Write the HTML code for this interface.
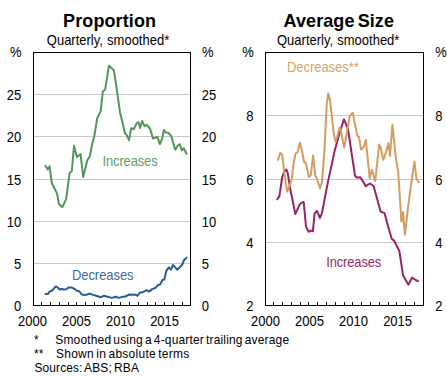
<!DOCTYPE html>
<html><head><meta charset="utf-8"><style>
html,body{margin:0;padding:0;background:#fff;width:447px;height:377px;overflow:hidden}
svg{display:block}
text{font-family:"Liberation Sans",sans-serif}
</style></head><body>
<svg width="447" height="377" viewBox="0 0 447 377">
<rect width="447" height="377" fill="#fff"/>
<rect x="34" y="263" width="156" height="1" fill="#c8c8c8"/>
<rect x="34" y="221" width="156" height="1" fill="#c8c8c8"/>
<rect x="34" y="179" width="156" height="1" fill="#c8c8c8"/>
<rect x="34" y="136" width="156" height="1" fill="#c8c8c8"/>
<rect x="34" y="94" width="156" height="1" fill="#c8c8c8"/>
<rect x="41" y="302" width="1" height="3" fill="#000"/>
<rect x="50" y="302" width="1" height="3" fill="#000"/>
<rect x="59" y="302" width="1" height="3" fill="#000"/>
<rect x="68" y="302" width="1" height="3" fill="#000"/>
<rect x="76" y="302" width="1" height="3" fill="#000"/>
<rect x="85" y="302" width="1" height="3" fill="#000"/>
<rect x="94" y="302" width="1" height="3" fill="#000"/>
<rect x="103" y="302" width="1" height="3" fill="#000"/>
<rect x="111" y="302" width="1" height="3" fill="#000"/>
<rect x="120" y="302" width="1" height="3" fill="#000"/>
<rect x="129" y="302" width="1" height="3" fill="#000"/>
<rect x="138" y="302" width="1" height="3" fill="#000"/>
<rect x="147" y="302" width="1" height="3" fill="#000"/>
<rect x="155" y="302" width="1" height="3" fill="#000"/>
<rect x="164" y="302" width="1" height="3" fill="#000"/>
<rect x="173" y="302" width="1" height="3" fill="#000"/>
<rect x="182" y="302" width="1" height="3" fill="#000"/>
<rect x="266" y="242" width="157" height="1" fill="#c8c8c8"/>
<rect x="266" y="179" width="157" height="1" fill="#c8c8c8"/>
<rect x="266" y="115" width="157" height="1" fill="#c8c8c8"/>
<rect x="273" y="302" width="1" height="3" fill="#000"/>
<rect x="282" y="302" width="1" height="3" fill="#000"/>
<rect x="291" y="302" width="1" height="3" fill="#000"/>
<rect x="300" y="302" width="1" height="3" fill="#000"/>
<rect x="308" y="302" width="1" height="3" fill="#000"/>
<rect x="317" y="302" width="1" height="3" fill="#000"/>
<rect x="326" y="302" width="1" height="3" fill="#000"/>
<rect x="335" y="302" width="1" height="3" fill="#000"/>
<rect x="344" y="302" width="1" height="3" fill="#000"/>
<rect x="352" y="302" width="1" height="3" fill="#000"/>
<rect x="361" y="302" width="1" height="3" fill="#000"/>
<rect x="370" y="302" width="1" height="3" fill="#000"/>
<rect x="379" y="302" width="1" height="3" fill="#000"/>
<rect x="388" y="302" width="1" height="3" fill="#000"/>
<rect x="396" y="302" width="1" height="3" fill="#000"/>
<rect x="405" y="302" width="1" height="3" fill="#000"/>
<rect x="414" y="302" width="1" height="3" fill="#000"/>
<polyline points="45.6,165.9 47.7,169.4 49.6,166.3 51.8,183.0 57.1,193.6 58.9,204.1 62.4,207.2 66.2,198.8 69.6,173.0 71.8,171.1 74.0,145.8 76.9,157.0 80.6,154.1 83.2,177.0 87.2,160.6 89.8,156.3 92.4,143.3 94.3,136.2 97.2,118.3 100.7,111.1 102.8,91.4 105.2,89.4 108.9,65.8 113.9,70.3 115.6,81.4 120.0,112.2 122.6,122.9 125.0,133.2 126.6,134.8 129.0,140.1 131.2,128.2 133.9,129.2 136.5,123.5 138.5,122.2 140.1,127.9 142.2,120.9 144.5,126.2 146.7,124.8 149.1,127.5 150.0,128.6 153.0,138.5 155.3,137.9 157.3,136.8 159.9,144.2 161.9,139.2 163.9,129.9 165.9,132.5 168.6,132.8 171.2,135.9 175.2,149.8 177.8,145.5 179.8,144.2 181.8,150.5 183.8,148.2 186.5,153.8" fill="none" stroke="#53955a" stroke-width="2.0" stroke-linejoin="round" stroke-linecap="round"/>
<polyline points="45.4,294.0 47.8,294.0 50.1,291.2 52.1,290.7 55.7,286.5 57.3,287.1 59.6,289.5 61.8,289.0 64.0,289.5 66.3,289.3 68.5,287.6 71.9,287.6 74.7,289.0 76.9,290.7 79.1,291.2 81.9,294.6 84.7,295.1 87.2,294.5 89.7,293.6 92.8,294.9 96.2,295.7 100.7,297.3 104.0,295.7 107.4,296.8 111.8,297.9 115.8,296.8 118.6,297.9 123.0,296.8 125.3,296.6 129.2,294.5 135.5,294.7 137.6,295.8 139.7,292.7 142.5,292.3 146.6,290.0 149.1,291.6 152.2,289.1 155.7,287.7 158.4,284.7 160.2,284.4 162.6,279.8 164.4,279.4 166.3,270.8 168.8,267.3 170.9,269.7 173.0,265.0 177.2,269.7 182.0,265.0 184.1,260.0 186.6,257.6" fill="none" stroke="#295a9b" stroke-width="2.0" stroke-linejoin="round" stroke-linecap="round"/>
<polyline points="277.3,199.3 279.4,196.1 282.2,177.0 284.3,171.7 286.4,169.5 287.9,173.8 290.7,191.8 292.2,198.2 295.3,214.1 299.6,204.6 301.9,202.4 303.7,202.0 306.0,226.5 308.6,231.8 310.6,230.5 312.9,231.2 314.6,213.3 317.0,210.9 319.9,217.9 321.9,213.3 328.0,181.6 334.6,151.1 338.6,136.5 343.9,119.3 347.9,128.6 355.0,175.5 356.7,177.6 360.3,177.2 365.8,186.1 370.0,183.5 373.6,186.1 380.6,211.5 384.5,213.1 388.1,226.3 391.7,238.7 394.1,240.6 399.4,251.3 403.0,275.2 408.4,284.7 412.0,277.6 415.6,280.0 418.0,281.2" fill="none" stroke="#972463" stroke-width="2.0" stroke-linejoin="round" stroke-linecap="round"/>
<polyline points="278.0,159.9 280.3,152.7 282.3,155.1 283.9,170.2 286.3,186.2 287.1,191.7 289.5,186.2 291.9,178.2 293.5,163.9 295.6,153.5 297.8,151.9 299.9,142.7 302.0,150.7 304.0,161.8 306.0,163.4 308.8,177.0 310.7,175.4 313.1,155.5 315.2,175.4 316.8,178.5 320.0,188.1 321.9,182.5 324.3,152.3 326.8,102.7 328.3,93.5 330.0,100.3 332.3,120.2 333.9,134.6 335.5,141.7 337.4,136.2 339.5,127.4 340.2,127.5 344.2,147.5 349.8,116.0 352.8,112.8 355.2,125.4 357.4,135.9 359.0,136.7 361.0,149.4 363.8,147.1 365.8,139.9 369.7,178.2 371.9,169.7 375.2,181.1 379.2,144.6 380.5,146.7 383.3,159.8 385.6,153.4 388.4,143.1 390.0,155.8 392.4,124.8 395.9,158.4 398.3,172.7 401.4,221.6 403.0,212.1 404.9,234.7 408.5,203.7 411.6,181.0 414.5,161.5 416.4,178.6 418.8,182.2" fill="none" stroke="#d49d62" stroke-width="2.0" stroke-linejoin="round" stroke-linecap="round"/>
<rect x="33" y="52" width="158" height="1" fill="#000"/><rect x="33" y="305" width="158" height="1" fill="#000"/><rect x="33" y="52" width="1" height="254" fill="#000"/><rect x="190" y="52" width="1" height="254" fill="#000"/>
<rect x="265" y="52" width="159" height="1" fill="#000"/><rect x="265" y="305" width="159" height="1" fill="#000"/><rect x="265" y="52" width="1" height="254" fill="#000"/><rect x="423" y="52" width="1" height="254" fill="#000"/>
<text transform="translate(109.6,27) scale(1,1.04)" font-size="18" text-anchor="middle" font-weight="bold" fill="#000" letter-spacing="0.1">Proportion</text>
<text transform="translate(338.8,27) scale(1,1.04)" font-size="18" text-anchor="middle" font-weight="bold" fill="#000" word-spacing="-2" letter-spacing="0.1">Average Size</text>
<text transform="translate(108.0,44.7) scale(1,1.1)" font-size="13" text-anchor="middle" font-weight="normal" fill="#000" word-spacing="0.6">Quarterly, smoothed*</text>
<text transform="translate(338.2,44.7) scale(1,1.1)" font-size="13" text-anchor="middle" font-weight="normal" fill="#000" word-spacing="0.6">Quarterly, smoothed*</text>
<text transform="translate(21.5,57) scale(1,1.1)" font-size="13" text-anchor="end" font-weight="normal" fill="#000">%</text>
<text transform="translate(202,57) scale(1,1.1)" font-size="13" text-anchor="start" font-weight="normal" fill="#000">%</text>
<text transform="translate(253.8,57) scale(1,1.1)" font-size="13" text-anchor="end" font-weight="normal" fill="#000">%</text>
<text transform="translate(435.3,57) scale(1,1.1)" font-size="13" text-anchor="start" font-weight="normal" fill="#000">%</text>
<text transform="translate(21.2,310.5) scale(1,1.1)" font-size="13" text-anchor="end" font-weight="normal" fill="#000">0</text>
<text transform="translate(201.8,310.5) scale(1,1.1)" font-size="13" text-anchor="start" font-weight="normal" fill="#000">0</text>
<text transform="translate(21.2,268.5) scale(1,1.1)" font-size="13" text-anchor="end" font-weight="normal" fill="#000">5</text>
<text transform="translate(201.8,268.5) scale(1,1.1)" font-size="13" text-anchor="start" font-weight="normal" fill="#000">5</text>
<text transform="translate(21.2,226.5) scale(1,1.1)" font-size="13" text-anchor="end" font-weight="normal" fill="#000">10</text>
<text transform="translate(201.8,226.5) scale(1,1.1)" font-size="13" text-anchor="start" font-weight="normal" fill="#000">10</text>
<text transform="translate(21.2,184.5) scale(1,1.1)" font-size="13" text-anchor="end" font-weight="normal" fill="#000">15</text>
<text transform="translate(201.8,184.5) scale(1,1.1)" font-size="13" text-anchor="start" font-weight="normal" fill="#000">15</text>
<text transform="translate(21.2,141.5) scale(1,1.1)" font-size="13" text-anchor="end" font-weight="normal" fill="#000">20</text>
<text transform="translate(201.8,141.5) scale(1,1.1)" font-size="13" text-anchor="start" font-weight="normal" fill="#000">20</text>
<text transform="translate(21.2,99.5) scale(1,1.1)" font-size="13" text-anchor="end" font-weight="normal" fill="#000">25</text>
<text transform="translate(201.8,99.5) scale(1,1.1)" font-size="13" text-anchor="start" font-weight="normal" fill="#000">25</text>
<text transform="translate(253.6,310.5) scale(1,1.1)" font-size="13" text-anchor="end" font-weight="normal" fill="#000">2</text>
<text transform="translate(435.3,310.5) scale(1,1.1)" font-size="13" text-anchor="start" font-weight="normal" fill="#000">2</text>
<text transform="translate(253.6,247.5) scale(1,1.1)" font-size="13" text-anchor="end" font-weight="normal" fill="#000">4</text>
<text transform="translate(435.3,247.5) scale(1,1.1)" font-size="13" text-anchor="start" font-weight="normal" fill="#000">4</text>
<text transform="translate(253.6,184.5) scale(1,1.1)" font-size="13" text-anchor="end" font-weight="normal" fill="#000">6</text>
<text transform="translate(435.3,184.5) scale(1,1.1)" font-size="13" text-anchor="start" font-weight="normal" fill="#000">6</text>
<text transform="translate(253.6,120.5) scale(1,1.1)" font-size="13" text-anchor="end" font-weight="normal" fill="#000">8</text>
<text transform="translate(435.3,120.5) scale(1,1.1)" font-size="13" text-anchor="start" font-weight="normal" fill="#000">8</text>
<text transform="translate(32.4,325.8) scale(1,1.1)" font-size="13" text-anchor="middle" font-weight="normal" fill="#000">2000</text>
<text transform="translate(265.4,325.8) scale(1,1.1)" font-size="13" text-anchor="middle" font-weight="normal" fill="#000">2000</text>
<text transform="translate(76.46,325.8) scale(1,1.1)" font-size="13" text-anchor="middle" font-weight="normal" fill="#000">2005</text>
<text transform="translate(309.46,325.8) scale(1,1.1)" font-size="13" text-anchor="middle" font-weight="normal" fill="#000">2005</text>
<text transform="translate(120.53,325.8) scale(1,1.1)" font-size="13" text-anchor="middle" font-weight="normal" fill="#000">2010</text>
<text transform="translate(353.52,325.8) scale(1,1.1)" font-size="13" text-anchor="middle" font-weight="normal" fill="#000">2010</text>
<text transform="translate(164.59,325.8) scale(1,1.1)" font-size="13" text-anchor="middle" font-weight="normal" fill="#000">2015</text>
<text transform="translate(397.59,325.8) scale(1,1.1)" font-size="13" text-anchor="middle" font-weight="normal" fill="#000">2015</text>
<text transform="translate(102.5,166.2) scale(1,1.1)" font-size="13" text-anchor="start" font-weight="normal" fill="#62a065" letter-spacing="-0.15">Increases</text>
<text transform="translate(71.9,279.6) scale(1,1.1)" font-size="13" text-anchor="start" font-weight="normal" fill="#3d69a6" letter-spacing="-0.05">Decreases</text>
<text transform="translate(287.0,71.6) scale(1,1.1)" font-size="13" text-anchor="start" font-weight="normal" fill="#d6a46e" letter-spacing="-0.05">Decreases**</text>
<text transform="translate(326.2,266.5) scale(1,1.1)" font-size="13" text-anchor="start" font-weight="normal" fill="#992a68" letter-spacing="-0.15">Increases</text>
<text transform="translate(34.0,344.1) scale(1,1.1)" font-size="12" text-anchor="start" font-weight="normal" fill="#000">*</text>
<text transform="translate(55.3,344.1) scale(1,1.1)" font-size="12" text-anchor="start" font-weight="normal" fill="#000" word-spacing="-1.4" letter-spacing="0.16">Smoothed using a 4-quarter trailing average</text>
<text transform="translate(34.0,357.9) scale(1,1.1)" font-size="12" text-anchor="start" font-weight="normal" fill="#000">**</text>
<text transform="translate(56.0,357.9) scale(1,1.1)" font-size="12" text-anchor="start" font-weight="normal" fill="#000" word-spacing="-1.2" letter-spacing="0.25">Shown in absolute terms</text>
<text transform="translate(34.4,372.0) scale(1,1.1)" font-size="12" text-anchor="start" font-weight="normal" fill="#000" word-spacing="-1.2" letter-spacing="0.1">Sources: ABS; RBA</text>
</svg>
</body></html>
